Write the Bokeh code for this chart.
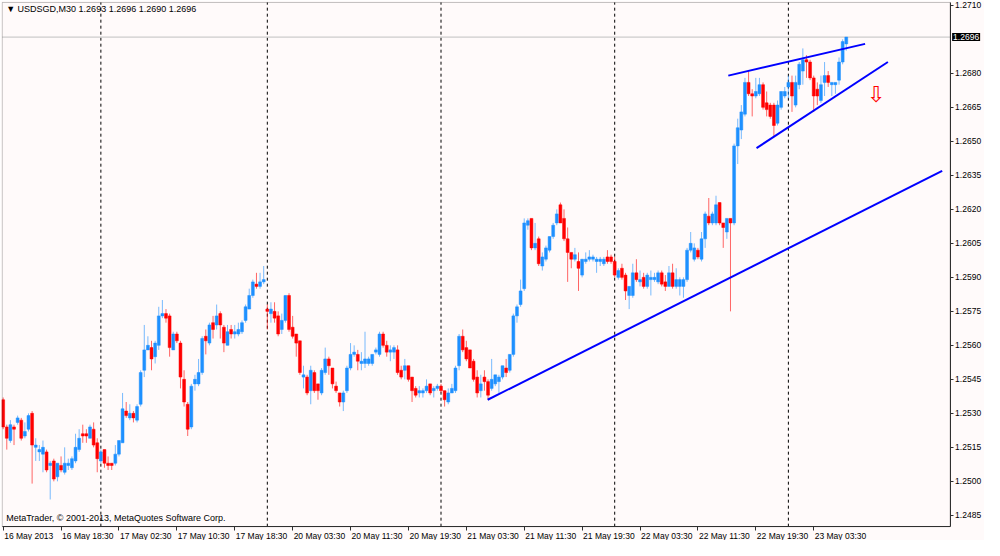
from bokeh.plotting import figure
from bokeh.models import (Range1d, FixedTicker, Label, ColumnDataSource,
                          PrintfTickFormatter, BoxAnnotation)
from bokeh.embed import file_html
from bokeh.resources import INLINE
from bokeh.core.properties import value

# ---------------- data (USDSGD, M30, one value per bar) ----------------
opens = [
    1.2536, 1.2524, 1.2518, 1.2524, 1.2526, 1.2527, 1.2520, 1.2523, 1.2530, 1.2515,
    1.2513, 1.2512, 1.2513, 1.2507, 1.2509, 1.2502, 1.2507, 1.2504, 1.2507, 1.2506,
    1.2509, 1.2514, 1.2521, 1.2521, 1.2519, 1.2523, 1.2517, 1.2509, 1.2514, 1.2508,
    1.2508, 1.2508, 1.2512, 1.2517, 1.2531, 1.2528, 1.2530, 1.2527, 1.2534, 1.2549,
    1.2558, 1.2559, 1.2555, 1.2560, 1.2573, 1.2574, 1.2573, 1.2558, 1.2565, 1.2561,
    1.2545, 1.2534, 1.2524, 1.2543, 1.2543, 1.2548, 1.2564, 1.2561, 1.2570, 1.2569,
    1.2574, 1.2568, 1.2560, 1.2567, 1.2565, 1.2565, 1.2566, 1.2571, 1.2576, 1.2582,
    1.2587, 1.2586, 1.2588, 1.2576, 1.2574, 1.2575, 1.2573, 1.2567, 1.2571, 1.2582,
    1.2568, 1.2565, 1.2562, 1.2546, 1.2546, 1.2540, 1.2548, 1.2543, 1.2539, 1.2548,
    1.2554, 1.2550, 1.2542, 1.2539, 1.2535, 1.2540, 1.2550, 1.2556, 1.2556, 1.2552,
    1.2552, 1.2552, 1.2552, 1.2557, 1.2556, 1.2565, 1.2560, 1.2557, 1.2557, 1.2558,
    1.2549, 1.2549, 1.2551, 1.2546, 1.2541, 1.2539, 1.2539, 1.2540, 1.2543, 1.2540,
    1.2541, 1.2542, 1.2540, 1.2535, 1.2539, 1.2540, 1.2551, 1.2564, 1.2559, 1.2558,
    1.2553, 1.2546, 1.2540, 1.2546, 1.2544, 1.2541, 1.2543, 1.2544, 1.2546, 1.2550,
    1.2549, 1.2556, 1.2573, 1.2578, 1.2585, 1.2613, 1.2616, 1.2603, 1.2607, 1.2595,
    1.2598, 1.2602, 1.2608, 1.2614, 1.2622, 1.2616, 1.2607, 1.2601, 1.2598, 1.2597,
    1.2591, 1.2597, 1.2598, 1.2598, 1.2597, 1.2597, 1.2596, 1.2599, 1.2599, 1.2597,
    1.2590, 1.2594, 1.2591, 1.2582, 1.2582, 1.2592, 1.2588, 1.2590, 1.2586, 1.2589,
    1.2589, 1.2588, 1.2592, 1.2588, 1.2586, 1.2592, 1.2586, 1.2586, 1.2586, 1.2589,
    1.2602, 1.2598, 1.2602, 1.2598, 1.2607, 1.2617, 1.2614, 1.2614, 1.2623, 1.2614,
    1.2610, 1.2616, 1.2614, 1.2648, 1.2655, 1.2662, 1.2676, 1.2671, 1.2670, 1.2671,
    1.2675, 1.2667, 1.2666, 1.2666, 1.2658, 1.2665, 1.2670, 1.2674, 1.2676, 1.2666,
    1.2675, 1.2681, 1.2686, 1.2685, 1.2678, 1.2673, 1.2668, 1.2676, 1.2679, 1.2675,
    1.2675, 1.2677, 1.2685, 1.2693,
]
highs = [
    1.2537, 1.2525, 1.2527, 1.2525, 1.2529, 1.2528, 1.2526, 1.2530, 1.2531, 1.2519,
    1.2516, 1.2518, 1.2514, 1.2509, 1.2510, 1.2508, 1.2511, 1.2515, 1.2510, 1.2511,
    1.2521, 1.2523, 1.2525, 1.2523, 1.2525, 1.2526, 1.2519, 1.2514, 1.2514, 1.2511,
    1.2508, 1.2516, 1.2518, 1.2539, 1.2535, 1.2534, 1.2531, 1.2534, 1.2549, 1.2569,
    1.2564, 1.2562, 1.2562, 1.2577, 1.2580, 1.2576, 1.2574, 1.2566, 1.2566, 1.2562,
    1.2549, 1.2535, 1.2543, 1.2547, 1.2554, 1.2564, 1.2567, 1.2570, 1.2573, 1.2578,
    1.2575, 1.2569, 1.2569, 1.2569, 1.2569, 1.2570, 1.2571, 1.2578, 1.2585, 1.2589,
    1.2592, 1.2592, 1.2595, 1.2578, 1.2579, 1.2579, 1.2575, 1.2574, 1.2582, 1.2583,
    1.2573, 1.2565, 1.2562, 1.2551, 1.2547, 1.2551, 1.2549, 1.2543, 1.2550, 1.2559,
    1.2555, 1.2550, 1.2544, 1.2539, 1.2540, 1.2551, 1.2561, 1.2560, 1.2558, 1.2557,
    1.2566, 1.2555, 1.2556, 1.2559, 1.2566, 1.2566, 1.2562, 1.2560, 1.2560, 1.2560,
    1.2551, 1.2554, 1.2551, 1.2546, 1.2542, 1.2542, 1.2541, 1.2545, 1.2543, 1.2542,
    1.2543, 1.2543, 1.2540, 1.2541, 1.2543, 1.2551, 1.2565, 1.2567, 1.2562, 1.2558,
    1.2554, 1.2549, 1.2547, 1.2549, 1.2545, 1.2554, 1.2547, 1.2547, 1.2551, 1.2554,
    1.2556, 1.2574, 1.2578, 1.2589, 1.2616, 1.2616, 1.2616, 1.2614, 1.2608, 1.2601,
    1.2604, 1.2608, 1.2614, 1.2620, 1.2623, 1.2620, 1.2612, 1.2601, 1.2603, 1.2601,
    1.2598, 1.2601, 1.2602, 1.2600, 1.2599, 1.2599, 1.2599, 1.2602, 1.2600, 1.2599,
    1.2594, 1.2596, 1.2592, 1.2586, 1.2596, 1.2598, 1.2593, 1.2592, 1.2592, 1.2593,
    1.2592, 1.2593, 1.2593, 1.2591, 1.2595, 1.2596, 1.2594, 1.2590, 1.2590, 1.2603,
    1.2610, 1.2605, 1.2603, 1.2610, 1.2619, 1.2625, 1.2619, 1.2626, 1.2623, 1.2614,
    1.2616, 1.2616, 1.2649, 1.2660, 1.2666, 1.2678, 1.2681, 1.2673, 1.2678, 1.2678,
    1.2676, 1.2672, 1.2667, 1.2667, 1.2668, 1.2672, 1.2674, 1.2679, 1.2679, 1.2679,
    1.2685, 1.2691, 1.2688, 1.2686, 1.2679, 1.2676, 1.2679, 1.2685, 1.2681, 1.2676,
    1.2676, 1.2687, 1.2695, 1.2696,
]
lows = [
    1.2523, 1.2514, 1.2517, 1.2516, 1.2525, 1.2518, 1.2519, 1.2522, 1.2499, 1.2509,
    1.2509, 1.2504, 1.2504, 1.2492, 1.2500, 1.2500, 1.2504, 1.2503, 1.2505, 1.2505,
    1.2508, 1.2513, 1.2517, 1.2517, 1.2519, 1.2515, 1.2504, 1.2508, 1.2506, 1.2505,
    1.2505, 1.2507, 1.2511, 1.2517, 1.2528, 1.2527, 1.2526, 1.2526, 1.2533, 1.2546,
    1.2558, 1.2549, 1.2552, 1.2558, 1.2572, 1.2570, 1.2555, 1.2558, 1.2561, 1.2541,
    1.2533, 1.2520, 1.2523, 1.2540, 1.2542, 1.2547, 1.2556, 1.2560, 1.2563, 1.2567,
    1.2563, 1.2557, 1.2560, 1.2563, 1.2563, 1.2564, 1.2565, 1.2570, 1.2576, 1.2581,
    1.2585, 1.2585, 1.2587, 1.2567, 1.2570, 1.2570, 1.2564, 1.2565, 1.2570, 1.2566,
    1.2563, 1.2555, 1.2547, 1.2541, 1.2538, 1.2534, 1.2539, 1.2536, 1.2538, 1.2547,
    1.2547, 1.2541, 1.2539, 1.2533, 1.2531, 1.2539, 1.2549, 1.2555, 1.2549, 1.2549,
    1.2550, 1.2551, 1.2551, 1.2556, 1.2555, 1.2559, 1.2555, 1.2553, 1.2554, 1.2547,
    1.2545, 1.2545, 1.2544, 1.2535, 1.2537, 1.2537, 1.2537, 1.2539, 1.2538, 1.2537,
    1.2540, 1.2539, 1.2533, 1.2534, 1.2539, 1.2539, 1.2549, 1.2557, 1.2553, 1.2550,
    1.2544, 1.2537, 1.2537, 1.2540, 1.2536, 1.2540, 1.2542, 1.2539, 1.2545, 1.2546,
    1.2548, 1.2555, 1.2570, 1.2577, 1.2584, 1.2611, 1.2602, 1.2602, 1.2595, 1.2593,
    1.2597, 1.2601, 1.2607, 1.2613, 1.2614, 1.2606, 1.2588, 1.2594, 1.2597, 1.2584,
    1.2590, 1.2596, 1.2597, 1.2597, 1.2592, 1.2595, 1.2595, 1.2596, 1.2596, 1.2590,
    1.2589, 1.2589, 1.2580, 1.2576, 1.2581, 1.2588, 1.2586, 1.2585, 1.2585, 1.2582,
    1.2588, 1.2587, 1.2586, 1.2584, 1.2586, 1.2585, 1.2585, 1.2582, 1.2581, 1.2588,
    1.2601, 1.2597, 1.2598, 1.2597, 1.2603, 1.2613, 1.2613, 1.2613, 1.2613, 1.2603,
    1.2607, 1.2575, 1.2613, 1.2640, 1.2651, 1.2661, 1.2670, 1.2661, 1.2669, 1.2670,
    1.2664, 1.2661, 1.2660, 1.2652, 1.2657, 1.2664, 1.2669, 1.2669, 1.2663, 1.2665,
    1.2673, 1.2675, 1.2678, 1.2677, 1.2663, 1.2666, 1.2667, 1.2670, 1.2674, 1.2670,
    1.2671, 1.2675, 1.2684, 1.2690,
]
closes = [
    1.2524, 1.2519, 1.2525, 1.2523, 1.2528, 1.2519, 1.2522, 1.2529, 1.2516, 1.2516,
    1.2514, 1.2515, 1.2505, 1.2508, 1.2501, 1.2508, 1.2505, 1.2508, 1.2508, 1.2510,
    1.2515, 1.2519, 1.2520, 1.2520, 1.2524, 1.2516, 1.2510, 1.2513, 1.2508, 1.2507,
    1.2507, 1.2512, 1.2518, 1.2532, 1.2529, 1.2530, 1.2528, 1.2533, 1.2548, 1.2558,
    1.2560, 1.2554, 1.2561, 1.2573, 1.2574, 1.2572, 1.2559, 1.2565, 1.2562, 1.2546,
    1.2535, 1.2523, 1.2542, 1.2545, 1.2548, 1.2563, 1.2562, 1.2569, 1.2567, 1.2573,
    1.2569, 1.2561, 1.2566, 1.2565, 1.2566, 1.2567, 1.2570, 1.2577, 1.2582, 1.2588,
    1.2586, 1.2588, 1.2589, 1.2575, 1.2576, 1.2572, 1.2565, 1.2571, 1.2582, 1.2567,
    1.2564, 1.2561, 1.2548, 1.2547, 1.2539, 1.2549, 1.2540, 1.2540, 1.2549, 1.2554,
    1.2551, 1.2543, 1.2540, 1.2535, 1.2539, 1.2550, 1.2556, 1.2557, 1.2553, 1.2553,
    1.2554, 1.2554, 1.2556, 1.2558, 1.2565, 1.2560, 1.2557, 1.2558, 1.2559, 1.2548,
    1.2546, 1.2551, 1.2545, 1.2540, 1.2538, 1.2540, 1.2540, 1.2542, 1.2539, 1.2541,
    1.2542, 1.2540, 1.2536, 1.2539, 1.2541, 1.2550, 1.2564, 1.2558, 1.2554, 1.2550,
    1.2545, 1.2539, 1.2543, 1.2544, 1.2538, 1.2545, 1.2547, 1.2546, 1.2551, 1.2548,
    1.2556, 1.2573, 1.2577, 1.2584, 1.2614, 1.2615, 1.2603, 1.2605, 1.2596, 1.2599,
    1.2603, 1.2608, 1.2613, 1.2618, 1.2614, 1.2607, 1.2601, 1.2598, 1.2600, 1.2594,
    1.2598, 1.2598, 1.2599, 1.2599, 1.2598, 1.2598, 1.2598, 1.2597, 1.2597, 1.2591,
    1.2593, 1.2590, 1.2584, 1.2586, 1.2592, 1.2589, 1.2589, 1.2586, 1.2591, 1.2590,
    1.2590, 1.2592, 1.2587, 1.2586, 1.2592, 1.2586, 1.2589, 1.2589, 1.2589, 1.2602,
    1.2605, 1.2603, 1.2599, 1.2607, 1.2618, 1.2614, 1.2618, 1.2622, 1.2614, 1.2612,
    1.2616, 1.2614, 1.2648, 1.2656, 1.2663, 1.2676, 1.2671, 1.2670, 1.2672, 1.2675,
    1.2665, 1.2664, 1.2661, 1.2657, 1.2666, 1.2672, 1.2672, 1.2676, 1.2670, 1.2676,
    1.2684, 1.2686, 1.2685, 1.2678, 1.2670, 1.2670, 1.2675, 1.2679, 1.2676, 1.2676,
    1.2676, 1.2685, 1.2694, 1.2696,
]

# price scale labels (1.2695 is hidden behind the bid label in the original)
price_ticks = [1.2485, 1.2500, 1.2515, 1.2530, 1.2545, 1.2560, 1.2575, 1.2590,
               1.2605, 1.2620, 1.2635, 1.2650, 1.2665, 1.2680, 1.2710]
# time scale: bar index of each label, and its text
tick_bars = [0, 16, 32, 48, 64, 80, 96, 112, 128, 144, 160, 176, 192, 208, 224]
tick_labels = ["16 May 2013", "16 May 18:30", "17 May 02:30", "17 May 10:30",
               "17 May 18:30", "20 May 03:30", "20 May 11:30", "20 May 19:30",
               "21 May 03:30", "21 May 11:30", "21 May 19:30", "22 May 03:30",
               "22 May 11:30", "22 May 19:30", "23 May 03:30"]
# period separators (first bar of each day)
day_start_bars = [27, 73, 121, 169, 217]

# drawn objects: (bar index, price) anchors
trend_bars = [133.9, 259.5]
trend_prices = [1.2536, 1.2637]
upper_bars = [200.4, 238.2]
upper_prices = [1.2679, 1.2693]
lower_bars = [208.2, 244.5]
lower_prices = [1.2647, 1.2685]
arrow_bar = [241.2]
arrow_price = [1.26705]

symbol = "USDSGD,M30"

# ---------------- styling / layout ----------------
BG = "#fffafa"
BULL = "#1e90ff"
BEAR = "#ff0000"
FRAME = "#303030"
FONT = "Liberation Sans"

# chart window (in bar / price units) and the full canvas around it
cx0, cx1 = -0.27, 261.7          # chart left / right edge
cy0, cy1 = 1.24800, 1.27113      # chart bottom / top edge
vx0, vx1 = -0.46, 271.2          # whole drawing area incl. price scale
vy0, vy1 = 1.24739, 1.27117      # whole drawing area incl. time scale

n = len(closes)
idx = list(range(n))
colors = [BULL if c >= o else BEAR for o, c in zip(opens, closes)]
tops = [max(o, c) for o, c in zip(opens, closes)]
bottoms = [min(o, c) for o, c in zip(opens, closes)]
src = ColumnDataSource(dict(x=idx, o=opens, h=highs, l=lows, c=closes,
                            top=tops, bottom=bottoms, color=colors))

p = figure(width=984, height=540, output_backend="svg", toolbar_location=None,
           x_range=Range1d(vx0, vx1), y_range=Range1d(vy0, vy1),
           y_axis_location="right",
           min_border_left=1, min_border_right=0, min_border_top=1, min_border_bottom=0)
p.background_fill_color = BG
p.border_fill_color = BG
p.outline_line_color = None
p.grid.visible = False

# chart border
p.add_layout(BoxAnnotation(left=cx0, right=cx1, bottom=cy0, top=cy1,
                           fill_color=None, line_color=FRAME, line_width=1))

# right price axis, pinned to the chart's right edge
ya = p.yaxis[0]
ya.fixed_location = cx1
ya.bounds = (cy0, cy1)
ya.ticker = FixedTicker(ticks=price_ticks)
ya.formatter = PrintfTickFormatter(format="%.4f")
ya.major_tick_in = 0
ya.major_tick_out = 3
ya.minor_tick_line_color = None
ya.axis_line_color = FRAME
ya.major_tick_line_color = FRAME
ya.major_label_standoff = 2
ya.major_label_text_font = FONT
ya.major_label_text_font_size = "8.5px"
ya.major_label_text_color = "#000000"

# bottom time axis, pinned to the chart's bottom edge (tick marks only)
xa = p.xaxis[0]
xa.fixed_location = cy0
xa.bounds = (cx0, cx1)
xa.ticker = FixedTicker(ticks=tick_bars)
xa.major_label_overrides = {b: "" for b in tick_bars}
xa.major_tick_in = 0
xa.major_tick_out = 4
xa.minor_tick_line_color = None
xa.axis_line_color = FRAME
xa.major_tick_line_color = FRAME
xa.major_label_text_font_size = "1px"

# time labels, left-aligned at their tick as in MetaTrader
for b, t in zip(tick_bars, tick_labels):
    p.add_layout(Label(x=b, y=cy0, text=t, x_offset=1, y_offset=-4,
                       text_align="left", text_baseline="top",
                       text_font=FONT, text_font_size="8.5px", text_color="#000000"))

# period separators
sep_src = ColumnDataSource(dict(x=day_start_bars,
                                y0=[cy0] * len(day_start_bars),
                                y1=[cy1] * len(day_start_bars)))
p.segment(x0="x", y0="y0", x1="x", y1="y1", source=sep_src,
          line_color="#000000", line_dash="3 3", line_width=1)

# bid line
bid = closes[-1]
p.segment(x0=[cx0], y0=[bid], x1=[cx1], y1=[bid], line_color="#c0c0c0", line_width=1)

# candles
p.segment(x0="x", y0="l", x1="x", y1="h", source=src, line_color="color",
          line_width=1, line_alpha=0.6)
p.vbar(x="x", width=0.8, top="top", bottom="bottom", source=src,
       fill_color="color", line_color="color", line_width=0.5)

# trend lines
p.line(trend_bars, trend_prices, line_color="#0000ff", line_width=2)
p.line(upper_bars, upper_prices, line_color="#0000ff", line_width=2)
p.line(lower_bars, lower_prices, line_color="#0000ff", line_width=2)

# sell arrow
p.text(x=arrow_bar, y=arrow_price, text=["\u21e9"], text_color="#ff0000",
       text_font=value("DejaVu Sans"), text_font_size="22px",
       text_align="center", text_baseline="middle")

# header and copyright
p.add_layout(Label(x=cx0, y=cy1, x_offset=4, y_offset=-2, text_align="left", text_baseline="top",
                   text=f"\u25bc {symbol}  {opens[-1]:.4f} {highs[-1]:.4f} {lows[-1]:.4f} {closes[-1]:.4f}",
                   text_font=FONT, text_font_size="9px", text_color="#000000"))
p.add_layout(Label(x=cx0, y=cy0, x_offset=4, y_offset=4, text_align="left", text_baseline="bottom",
                   text="MetaTrader, \u00a9 2001-2013, MetaQuotes Software Corp.",
                   text_font=FONT, text_font_size="9px", text_color="#000000"))

# bid price box on the price scale
p.add_layout(Label(x=cx1, y=bid, x_offset=2, text=f"{bid:.4f}", text_align="left",
                   text_baseline="middle", text_font=FONT, text_font_size="8.5px",
                   text_color="#ffffff", background_fill_color="#000000", padding=1))

open("out.html", "w").write(file_html(p, INLINE))
